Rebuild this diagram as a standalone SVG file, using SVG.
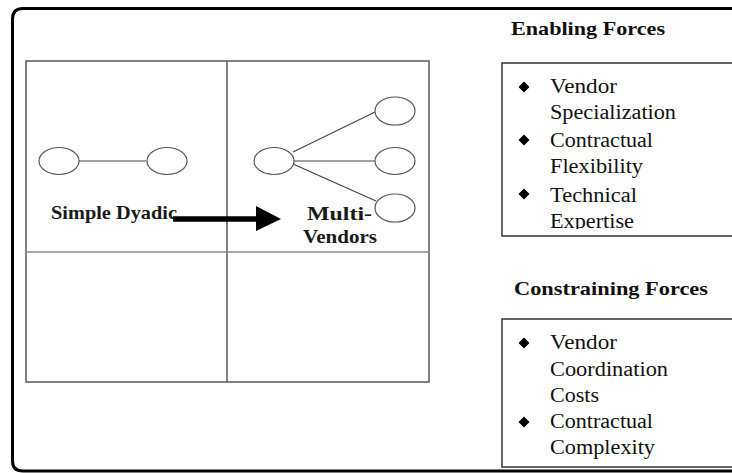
<svg xmlns="http://www.w3.org/2000/svg" width="732" height="473" viewBox="0 0 732 473">
  <defs>
    <clipPath id="enableClip"><rect x="502" y="63" width="230" height="166"/></clipPath>
  </defs>

  <rect width="732" height="473" fill="#ffffff"/>

  <!-- outer rounded frame, open on the right -->
  <path fill="none" stroke="#000" stroke-width="3" d="M732,8.5 L23,8.5 Q12.5,8.5 12.5,19 L12.5,461 Q12.5,471 23,471 L732,471"/>

  <!-- 2x2 grid -->
  <g id="grid" fill="none" stroke="#5a5a5a" stroke-width="1.5">
    <rect x="26" y="61" width="403" height="321"/>
    <line x1="227" y1="61" x2="227" y2="382"/>
    <line x1="26" y1="252" x2="429" y2="252" stroke="#888"/>
  </g>

  <!-- connectors -->
  <g id="connectors" stroke="#444" stroke-width="1.2">
    <line x1="79" y1="161" x2="146" y2="161"/>
    <line x1="293" y1="152" x2="375" y2="112"/>
    <line x1="294" y1="161" x2="375" y2="161"/>
    <line x1="293" y1="164" x2="376" y2="201"/>
    <line x1="173" y1="219" x2="258" y2="219" stroke="#000" stroke-width="5.5"/>
    <path d="M256,206 L281,219 L256,231 Z" fill="#000" stroke="none"/>
  </g>

  <!-- simple dyadic cell -->
  <g id="dyadic">
    <ellipse cx="59" cy="161" rx="20" ry="13.5" fill="#fff" stroke="#555" stroke-width="1.2"/>
    <ellipse cx="167" cy="161" rx="20" ry="13.5" fill="#fff" stroke="#555" stroke-width="1.2"/>
    <text x="51" y="219" font-family="Liberation Serif, serif" font-weight="bold" font-size="19" fill="#1a1a1a" textLength="126" lengthAdjust="spacingAndGlyphs">Simple Dyadic</text>
  </g>

  <!-- multi-vendor cell -->
  <g id="multi" fill="#fff" stroke="#555" stroke-width="1.2">
    <ellipse cx="274" cy="161" rx="20" ry="13.5"/>
    <ellipse cx="395" cy="111" rx="20" ry="14"/>
    <ellipse cx="395" cy="161" rx="20" ry="13.5"/>
    <ellipse cx="395" cy="208" rx="20" ry="14"/>
    <text x="307" y="220" stroke="none" fill="#1a1a1a" font-family="Liberation Serif, serif" font-weight="bold" font-size="19" textLength="65" lengthAdjust="spacingAndGlyphs">Multi-</text>
    <text x="303" y="243" stroke="none" fill="#1a1a1a" font-family="Liberation Serif, serif" font-weight="bold" font-size="19" textLength="74" lengthAdjust="spacingAndGlyphs">Vendors</text>
  </g>

  <!-- enabling forces -->
  <g id="enabling" font-family="Liberation Serif, serif" fill="#111">
    <text x="511" y="35" font-weight="bold" font-size="19" textLength="154" lengthAdjust="spacingAndGlyphs">Enabling Forces</text>
    <rect x="502" y="63" width="232" height="173" fill="#fff" stroke="#333" stroke-width="1.5"/>
    <path fill="#000" d="M524,81.5 L529.5,87 L524,92.5 L518.5,87 Z M524,134.5 L529.5,140 L524,145.5 L518.5,140 Z M524,188.5 L529.5,194 L524,199.5 L518.5,194 Z"/>
    <g clip-path="url(#enableClip)" font-size="20" font-family="Liberation Serif, serif">
      <text x="550" y="93" textLength="67" lengthAdjust="spacingAndGlyphs">Vendor</text>
      <text x="550" y="119" textLength="126" lengthAdjust="spacingAndGlyphs">Specialization</text>
      <text x="550" y="147" textLength="103" lengthAdjust="spacingAndGlyphs">Contractual</text>
      <text x="550" y="173" textLength="93" lengthAdjust="spacingAndGlyphs">Flexibility</text>
      <text x="550" y="202" textLength="87" lengthAdjust="spacingAndGlyphs">Technical</text>
      <text x="550" y="228" textLength="84" lengthAdjust="spacingAndGlyphs">Expertise</text>
    </g>
  </g>

  <!-- constraining forces -->
  <g id="constraining" font-family="Liberation Serif, serif" fill="#111">
    <text x="514" y="295" font-weight="bold" font-size="19" textLength="194" lengthAdjust="spacingAndGlyphs">Constraining Forces</text>
    <rect x="502" y="319" width="232" height="148" fill="#fff" stroke="#333" stroke-width="1.5"/>
    <path fill="#000" d="M524,337.5 L529.5,343 L524,348.5 L518.5,343 Z M524,416.5 L529.5,422 L524,427.5 L518.5,422 Z"/>
    <g font-size="20" font-family="Liberation Serif, serif">
      <text x="550" y="349" textLength="67" lengthAdjust="spacingAndGlyphs">Vendor</text>
      <text x="550" y="376" textLength="118" lengthAdjust="spacingAndGlyphs">Coordination</text>
      <text x="550" y="402" textLength="49" lengthAdjust="spacingAndGlyphs">Costs</text>
      <text x="550" y="428" textLength="103" lengthAdjust="spacingAndGlyphs">Contractual</text>
      <text x="550" y="454" textLength="105" lengthAdjust="spacingAndGlyphs">Complexity</text>
    </g>
  </g>
</svg>
